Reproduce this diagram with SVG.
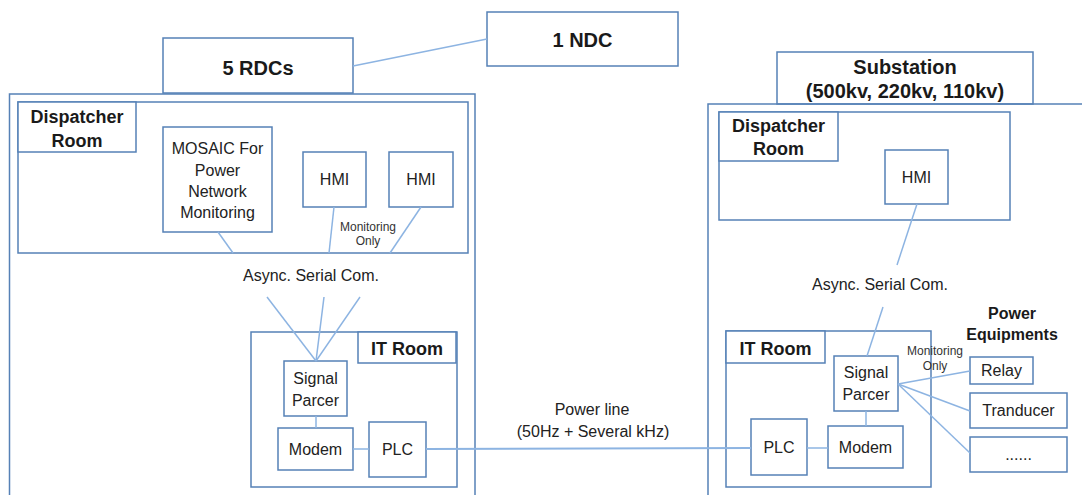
<svg xmlns="http://www.w3.org/2000/svg" width="1082" height="495" viewBox="0 0 1082 495">
  <style>
    .box { fill: #ffffff; stroke: #5681b6; stroke-width: 1.5; }
    .frame { fill: none; stroke: #5681b6; stroke-width: 1.5; }
    .link { fill: none; stroke: #8db4e2; stroke-width: 1.5; }
    .power { fill: none; stroke: #8db4e2; stroke-width: 2.2; }
    text { font-family: "Liberation Sans", Arial, sans-serif; text-anchor: middle; fill: #1a1a1a; }
    .title { font-size: 20px; font-weight: bold; }
    .label { font-size: 18px; font-weight: bold; }
    .sub { font-size: 16px; font-weight: bold; }
    .txt { font-size: 16px; fill: #222222; }
    .small { font-size: 12px; fill: #333333; }
  </style>

  <rect width="1082" height="495" fill="#ffffff"/>

  <!-- Regional dispatch centres (left site) -->
  <g id="rdc-site">
    <rect class="frame" x="9.5" y="94" width="465.5" height="420"/>
  </g>
  <g id="rdc-dispatcher-room">
    <rect class="frame" x="18" y="102" width="450" height="151"/>
    <rect class="box" x="18" y="102" width="118" height="50"/>
    <text class="label" x="77" y="123">Dispatcher</text>
    <text class="label" x="77" y="147">Room</text>
  </g>
  <g id="mosaic">
    <rect class="box" x="163" y="127" width="109" height="105"/>
    <text class="txt" x="217.5" y="154">MOSAIC For</text>
    <text class="txt" x="217.5" y="175.5">Power</text>
    <text class="txt" x="217.5" y="197">Network</text>
    <text class="txt" x="217.5" y="218">Monitoring</text>
  </g>
  <g id="rdc-hmi-1">
    <rect class="box" x="303" y="152" width="63" height="55"/>
    <text class="txt" x="334.5" y="185">HMI</text>
  </g>
  <g id="rdc-hmi-2">
    <rect class="box" x="389" y="152" width="64" height="55"/>
    <text class="txt" x="421" y="185">HMI</text>
  </g>
  <g id="rdc-it-room">
    <rect class="frame" x="251" y="332" width="206" height="155"/>
    <rect class="box" x="358" y="332" width="98" height="31"/>
    <text class="label" x="407" y="355">IT Room</text>
  </g>
  <g id="rdc-signal-parcer">
    <rect class="box" x="284" y="361" width="63" height="55"/>
    <text class="txt" x="315.5" y="384">Signal</text>
    <text class="txt" x="315.5" y="406">Parcer</text>
  </g>
  <g id="rdc-modem">
    <rect class="box" x="278" y="428" width="75" height="42"/>
    <text class="txt" x="315.5" y="455">Modem</text>
  </g>
  <g id="rdc-plc">
    <rect class="box" x="369" y="422" width="57" height="55"/>
    <text class="txt" x="397.5" y="455">PLC</text>
  </g>

  <!-- Headings -->
  <g id="rdcs">
    <rect class="box" x="163" y="38" width="190" height="55"/>
    <text class="title" x="258" y="75">5 RDCs</text>
  </g>
  <g id="ndc">
    <rect class="box" x="487" y="12" width="191" height="54"/>
    <text class="title" x="582.5" y="47">1 NDC</text>
  </g>
  <g id="substation">
    <rect class="box" x="777" y="52" width="256" height="52"/>
    <text class="title" x="905" y="74">Substation</text>
    <text class="title" x="905" y="98">(500kv, 220kv, 110kv)</text>
  </g>

  <!-- Substation (right site) -->
  <g id="substation-site">
    <rect class="frame" x="708" y="104" width="400" height="420"/>
  </g>
  <g id="sub-dispatcher-room">
    <rect class="frame" x="719" y="112" width="291" height="108"/>
    <rect class="box" x="719" y="112" width="119" height="49"/>
    <text class="label" x="778.5" y="132">Dispatcher</text>
    <text class="label" x="778.5" y="155">Room</text>
  </g>
  <g id="sub-hmi">
    <rect class="box" x="885" y="150" width="63" height="54"/>
    <text class="txt" x="916.5" y="183">HMI</text>
  </g>
  <g id="sub-it-room">
    <rect class="frame" x="726" y="331" width="205" height="156"/>
    <rect class="box" x="726" y="331" width="99" height="32"/>
    <text class="label" x="775.5" y="355">IT Room</text>
  </g>
  <g id="sub-signal-parcer">
    <rect class="box" x="834" y="356" width="64" height="55"/>
    <text class="txt" x="866" y="378">Signal</text>
    <text class="txt" x="866" y="400">Parcer</text>
  </g>
  <g id="sub-modem">
    <rect class="box" x="828" y="426" width="75" height="42"/>
    <text class="txt" x="865.5" y="453">Modem</text>
  </g>
  <g id="sub-plc">
    <rect class="box" x="751" y="419" width="56" height="56"/>
    <text class="txt" x="779" y="453">PLC</text>
  </g>
  <g id="power-equipments">
    <text class="sub" x="1012" y="319">Power</text>
    <text class="sub" x="1012" y="340">Equipments</text>
  </g>
  <g id="relay">
    <rect class="box" x="970" y="357" width="63" height="27"/>
    <text class="txt" x="1001.5" y="376">Relay</text>
  </g>
  <g id="tranducer">
    <rect class="box" x="970" y="393" width="97" height="35"/>
    <text class="txt" x="1018.5" y="416">Tranducer</text>
  </g>
  <g id="other-equipment">
    <rect class="box" x="970" y="437" width="97" height="35"/>
    <text class="txt" x="1018.5" y="460">......</text>
  </g>

  <!-- Connectors -->
  <g id="connectors">
    <line class="link" x1="353" y1="66" x2="487" y2="39"/>
    <!-- left site -->
    <line class="link" x1="218" y1="232" x2="233" y2="253"/>
    <line class="link" x1="334" y1="207" x2="329" y2="253"/>
    <line class="link" x1="421" y1="207" x2="390" y2="253"/>
    <line class="link" x1="267" y1="297" x2="316" y2="361"/>
    <line class="link" x1="324" y1="297" x2="316" y2="361"/>
    <line class="link" x1="360" y1="297" x2="316" y2="361"/>
    <line class="link" x1="316" y1="416" x2="316" y2="428"/>
    <line class="link" x1="353" y1="449" x2="369" y2="449"/>
    <!-- power line between the PLCs -->
    <line class="power" x1="426" y1="449" x2="751" y2="448"/>
    <!-- right site -->
    <line class="link" x1="917" y1="204" x2="897" y2="265"/>
    <line class="link" x1="883" y1="307" x2="867" y2="356"/>
    <line class="link" x1="866" y1="411" x2="866" y2="426"/>
    <line class="link" x1="807" y1="448" x2="828" y2="448"/>
    <line class="link" x1="898" y1="384" x2="970" y2="371"/>
    <line class="link" x1="898" y1="384" x2="970" y2="411"/>
    <line class="link" x1="898" y1="384" x2="970" y2="453"/>
  </g>

  <!-- Connector labels -->
  <g id="connector-labels">
    <text class="small" x="368" y="231">Monitoring</text>
    <text class="small" x="368" y="245">Only</text>
    <text class="txt" x="311" y="281">Async. Serial Com.</text>
    <text class="txt" x="592" y="415">Power line</text>
    <text class="txt" x="593" y="437">(50Hz + Several kHz)</text>
    <text class="txt" x="880" y="290">Async. Serial Com.</text>
    <text class="small" x="935" y="355">Monitoring</text>
    <text class="small" x="935" y="370">Only</text>
  </g>
</svg>
